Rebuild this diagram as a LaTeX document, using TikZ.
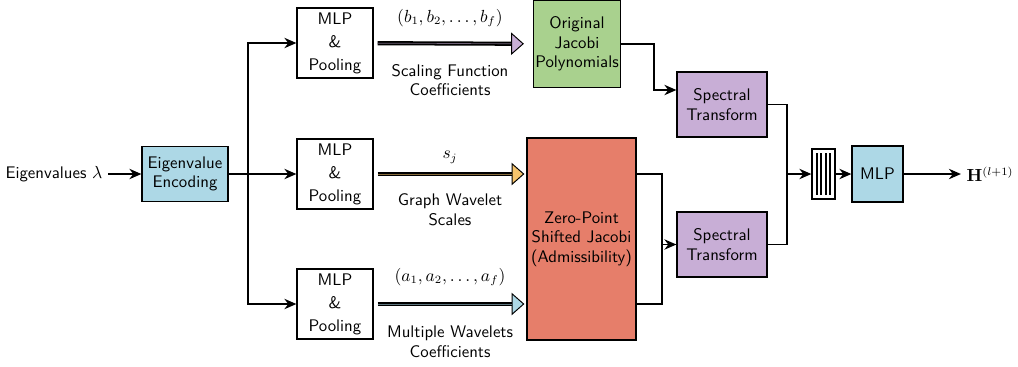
\documentclass[tikz,border=0pt]{standalone}
\usetikzlibrary{arrows.meta,calc}
\definecolor{cblue}{RGB}{173,216,230}
\definecolor{cgreen}{RGB}{169,209,142}
\definecolor{cpurple}{RGB}{200,174,214}
\definecolor{cred}{RGB}{230,126,106}
\definecolor{corange}{RGB}{246,196,108}
\begin{document}
\begin{tikzpicture}[x=0.625pt,y=-0.625pt,
  font=\fontsize{10.5}{12.2}\selectfont\sffamily,
  box/.style={draw, line width=0.8pt, align=center, inner sep=1pt},
  arr/.style={line width=0.8pt, -{Stealth[length=7.5pt,width=6.5pt]}},
  ln/.style={line width=0.8pt},
  fat/.style={line width=2.6pt, -{Triangle[length=8pt,width=14pt,line width=0.6pt,fill=#1]}},
  fatin/.style={line width=0.4pt, draw=#1!55!black},
]
\useasboundingbox (0,0) rectangle (1018,366);

% nodes
\node[anchor=east] (lam) at (108,174) {Eigenvalues $\lambda$};
\node[box, fill=cblue, minimum width=53.75pt, minimum height=34.4pt] (enc) at (185,174) {Eigenvalue\\Encoding};
\node[box, minimum width=47.5pt, minimum height=43.75pt] (m1) at (335,43) {MLP\\[2.2pt]\&\\[2.2pt]Pooling};
\node[box, minimum width=47.5pt, minimum height=43.75pt] (m2) at (335,174) {MLP\\[2.2pt]\&\\[2.2pt]Pooling};
\node[box, minimum width=47.5pt, minimum height=43.75pt] (m3) at (335,304) {MLP\\[2.2pt]\&\\[2.2pt]Pooling};
\node[box, fill=cgreen, minimum width=54.4pt, minimum height=54.4pt] (orig) at (577,44) {Original\\Jacobi\\Polynomials};
\node[box, fill=cred, minimum width=68.1pt, minimum height=126.25pt] (zp) at (581.5,239) {Zero-Point\\Shifted Jacobi\\(Admissibility)};
\node[box, fill=cpurple, minimum width=56.25pt, minimum height=40.6pt] (st1) at (722,104.5) {Spectral\\Transform};
\node[box, fill=cpurple, minimum width=56.25pt, minimum height=40.6pt] (st2) at (722,244.5) {Spectral\\Transform};
\node[draw, line width=0.8pt, minimum width=14.4pt, minimum height=31.25pt, inner sep=0pt] (cat) at (823.5,174) {};
\foreach \dx in {-6.75,-2.25,2.25,6.75}
  \draw[line width=1.3pt] ($(cat.center)+(\dx,-21)$) -- ($(cat.center)+(\dx,21)$);
\node[box, fill=cblue, minimum width=31.9pt, minimum height=35pt] (mlp) at (877.5,174) {MLP};
\node (out) at (990,174) {$\mathbf{H}^{(l+1)}$};

% labels
\node (lb1) at (450,18) {$(b_1, b_2, \ldots, b_f)$};
\node[align=center] (lb1b) at (450,80) {Scaling Function\\Coefficients};
\node (lb2) at (450,157) {$s_j$};
\node[align=center] (lb2b) at (450,210) {Graph Wavelet\\Scales};
\node (lb3) at (450,277) {$(a_1, a_2, \ldots, a_f)$};
\node[align=center] (lb3b) at (450,342) {Multiple Wavelets\\Coefficients};

% connectors
\draw[arr] (lam) -- (enc);
\coordinate (sp) at (248,174);
\draw[arr] (enc) -- (m2);
\draw[arr] (sp) |- (m1);
\draw[arr] (sp) |- (m3);

\draw[fat=cpurple, shorten <=2.5pt, shorten >=5.6pt] (m1) -- (orig);
\draw[fatin=cpurple, shorten <=2.5pt, shorten >=13.6pt] (m1) -- (orig);
\draw[fat=corange, shorten <=2.5pt, shorten >=1.25pt] (m2) -- (m2 -| zp.west);
\draw[fatin=corange, shorten <=2.5pt, shorten >=9.25pt] (m2) -- (m2 -| zp.west);
\draw[fat=cblue, shorten <=2.5pt, shorten >=1.25pt] (m3) -- (m3 -| zp.west);
\draw[fatin=cblue, shorten <=2.5pt, shorten >=9.25pt] (m3) -- (m3 -| zp.west);

\coordinate (g1) at (654,90);
\draw[arr] (orig.east) -| (g1) -- (g1 -| st1.west);

\coordinate (r1) at (662,244.5);
\draw[ln] (zp.east |- m2) -| (r1);
\draw[ln] (zp.east |- m3) -| (r1);
\draw[arr] (r1) -- (st2.west);

\coordinate (j) at (787,174);
\draw[ln] (st1.east) -| (j);
\draw[ln] (st2.east) -| (j);
\draw[arr] (j) -- (cat);
\draw[arr] (cat) -- (mlp);
\draw[arr] (mlp) -- (out);
\end{tikzpicture}
\end{document}
